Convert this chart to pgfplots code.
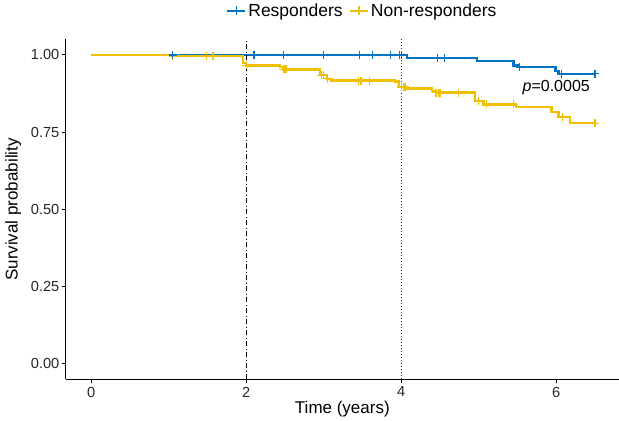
\documentclass[border=0pt]{standalone}
\usepackage{pgfplots}
\pgfplotsset{compat=1.18}
\usepackage{fontspec}
\setmainfont{Liberation Sans}
\definecolor{jblue}{HTML}{0073C2}
\definecolor{jyel}{HTML}{EFC000}
\begin{document}
\begin{tikzpicture}
\begin{axis}[
  name=ax,
  scale only axis,
  width=553.5bp, height=340bp,
  xmin=-0.33, xmax=6.81,
  ymin=-0.05, ymax=1.05,
  axis x line*=bottom, axis y line*=left,
  axis line style={line width=1bp, black},
  tick align=outside,
  major tick length=4bp,
  tick style={line width=1bp, black},
  xtick={0,2,4,6},
  ytick={0,0.25,0.5,0.75,1},
  yticklabel style={xshift=1.2bp, /pgf/number format/.cd, fixed, fixed zerofill, precision=2},
  /pgf/number format/assume math mode=true,
  ticklabel style={font=\fontsize{14.6bp}{17bp}\selectfont, text=black!85},
  xlabel={Time (years)},
  ylabel={Survival probability},
  label style={font=\fontsize{17bp}{20bp}\selectfont},
  ylabel shift=3bp,
  xlabel shift=-3bp,
  clip=false,
  legend columns=2,
  legend style={draw=none, fill=none, at={(0.536,1)}, anchor=south, yshift=17.5bp,
    font=\fontsize{17.5bp}{20bp}\selectfont,
    /tikz/every even column/.append style={column sep=4bp}},
  legend image code/.code={
    \draw[#1] (0bp,0bp) -- (18bp,0bp);
    \draw[#1, line width=1.3bp] (9bp,-4.5bp) -- (9bp,4.5bp);
  },
]
% step curves
\addplot[const plot, color=jblue, line width=2.3bp] coordinates {
 (0,1)(4.07,0.991)(4.98,0.980)(5.45,0.966)(5.5,0.9605)(5.99,0.9476)(6.03,0.939)(6.5,0.939)};
\addlegendentry{Responders}
\addplot[const plot, color=jyel, line width=2.3bp] coordinates {
 (0,1)(1.04,0.996)(1.96,0.975)(2.0,0.966)(2.44,0.96)(2.48,0.953)(2.95,0.934)(3.04,0.923)(3.1,0.917)
 (3.92,0.914)(3.97,0.896)(4.06,0.891)(4.40,0.884)(4.45,0.878)(4.95,0.850)(5.06,0.840)(5.48,0.831)
 (5.94,0.815)(6.03,0.799)(6.18,0.779)(6.5,0.779)};
\addlegendentry{Non-responders}
% censor marks
\addplot[forget plot, only marks, mark=+, mark size=4bp, color=jyel, mark options={line width=1.3bp}] coordinates {
 (1.05,0.996)(1.49,0.996)(1.57,0.996)(2.0,0.966)(2.48,0.953)(2.5,0.953)(2.52,0.953)
 (2.97,0.934)(3.0,0.934)(3.05,0.923)(3.45,0.917)(3.47,0.917)(3.49,0.917)(3.59,0.917)
 (4.0,0.896)(4.03,0.896)(4.05,0.896)(4.45,0.878)(4.48,0.878)(4.5,0.878)(4.74,0.878)
 (5.0,0.850)(5.1,0.840)(5.45,0.840)(6.08,0.799)(6.5,0.779)};
\addplot[forget plot, only marks, mark=+, mark size=4bp, color=jblue, mark options={line width=1.3bp}] coordinates {
 (1.05,1)(2.10,1)(2.48,1)(3.0,1)(3.46,1)(3.63,1)(3.86,1)(3.98,1)(4.0,1)
 (4.47,0.991)(4.56,0.991)(5.53,0.9605)(6.07,0.939)(6.5,0.939)};
% reference lines
\addplot[forget plot, black, line width=0.9bp, dash pattern=on 5bp off 2.5bp on 1bp off 2.5bp] coordinates {(2,-0.05)(2,1.05)};
\addplot[forget plot, black!80, line width=0.9bp, dash pattern=on 1bp off 2bp] coordinates {(4,-0.05)(4,1.05)};
\node[font=\fontsize{16bp}{19bp}\selectfont] at (axis cs:6.0,0.894) {\textit{p}=0.0005};
\end{axis}
\pgfresetboundingbox
\path ([shift={(-65.7bp,-41.5bp)}]ax.south west) rectangle ([shift={(0bp,39.5bp)}]ax.north east);
\end{tikzpicture}
\end{document}
